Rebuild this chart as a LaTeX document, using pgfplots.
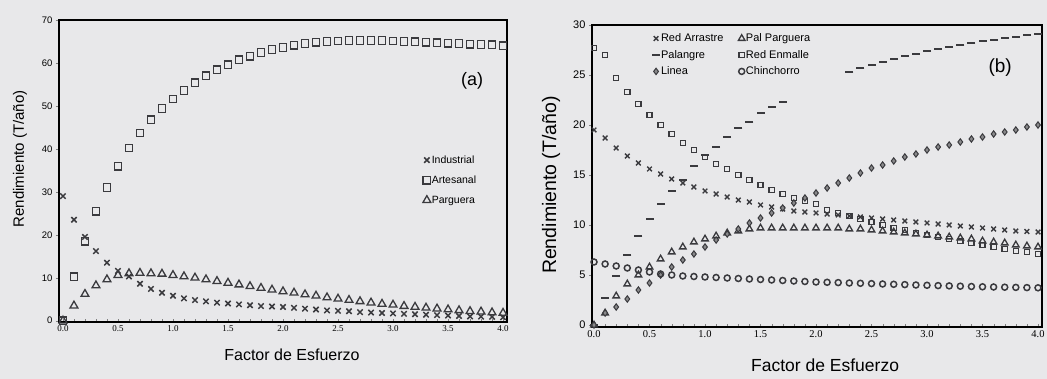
\documentclass[border=0pt]{standalone}
\usepackage{pgfplots}
\pgfplotsset{compat=1.18}
\usepackage{pgfplotstable}
\usepackage{fontspec}
\setmainfont{Liberation Sans}
\newfontfamily\serif{Liberation Serif}
\definecolor{bg}{RGB}{232,232,234}
\definecolor{mk}{RGB}{58,58,62}

\pgfplotstableread{
x ind art par
0.0 29.0 0.0 0.0
0.1 23.5 10.2 3.5
0.2 19.5 18.5 6.2
0.3 16.2 25.5 8.2
0.4 13.5 31.0 9.6
0.5 11.6 36.0 10.6
0.6 10.3 40.2 11.0
0.7 8.6 43.7 11.1
0.8 7.4 46.8 11.0
0.9 6.5 49.4 10.9
1.0 5.8 51.6 10.6
1.1 5.2 53.6 10.3
1.2 4.8 55.4 10.0
1.3 4.5 57.0 9.6
1.4 4.2 58.4 9.2
1.5 4.0 59.6 8.8
1.6 3.8 60.7 8.4
1.7 3.6 61.6 8.0
1.8 3.4 62.4 7.6
1.9 3.3 63.1 7.2
2.0 3.2 63.6 6.8
2.1 3.0 64.1 6.5
2.2 2.8 64.5 6.1
2.3 2.6 64.8 5.8
2.4 2.4 65.0 5.4
2.5 2.3 65.1 5.1
2.6 2.2 65.2 4.8
2.7 2.0 65.2 4.5
2.8 1.9 65.2 4.2
2.9 1.8 65.2 3.9
3.0 1.7 65.1 3.7
3.1 1.6 65.0 3.4
3.2 1.5 64.9 3.2
3.3 1.4 64.8 3.0
3.4 1.3 64.7 2.8
3.5 1.2 64.6 2.6
3.6 1.1 64.5 2.4
3.7 1.0 64.4 2.2
3.8 0.95 64.3 2.1
3.9 0.9 64.2 1.9
4.0 0.8 64.0 1.8
}\tableA

\pgfplotstableread{
x arr ppar enm lin chi
0.0 19.5 0.0 27.7 0.0 6.3
0.1 18.7 1.2 27.0 1.2 6.1
0.2 17.7 2.9 24.7 1.8 5.9
0.3 16.9 4.1 23.3 2.6 5.7
0.4 16.2 5.0 22.1 3.5 5.5
0.5 15.6 5.8 21.0 4.2 5.3
0.6 15.1 6.6 20.0 5.0 5.1
0.7 14.6 7.3 19.1 5.8 5.0
0.8 14.2 7.8 18.2 6.5 4.9
0.9 13.8 8.3 17.5 7.1 4.85
1.0 13.4 8.6 16.8 7.8 4.8
1.1 13.1 8.9 16.1 8.5 4.75
1.2 12.8 9.2 15.6 9.1 4.7
1.3 12.5 9.4 15.0 9.6 4.65
1.4 12.3 9.6 14.5 10.2 4.6
1.5 12.0 9.7 14.0 10.7 4.55
1.6 11.8 9.7 13.5 11.2 4.5
1.7 11.6 9.7 13.1 11.7 4.45
1.8 11.4 9.7 12.7 12.2 4.4
1.9 11.3 9.7 12.4 12.7 4.35
2.0 11.2 9.7 12.1 13.2 4.3
2.1 11.1 9.7 11.5 13.7 4.27
2.2 11.0 9.7 11.2 14.2 4.24
2.3 10.9 9.6 10.9 14.7 4.2
2.4 10.8 9.6 10.6 15.2 4.17
2.5 10.7 9.5 10.3 15.7 4.14
2.6 10.6 9.4 10.0 16.0 4.1
2.7 10.5 9.3 9.7 16.4 4.07
2.8 10.4 9.2 9.5 16.8 4.04
2.9 10.3 9.1 9.2 17.1 4.0
3.0 10.2 9.0 9.0 17.5 3.97
3.1 10.1 8.9 8.8 17.8 3.94
3.2 10.0 8.8 8.6 18.0 3.91
3.3 9.9 8.7 8.4 18.3 3.88
3.4 9.8 8.6 8.2 18.6 3.85
3.5 9.7 8.4 8.0 18.8 3.82
3.6 9.6 8.3 7.8 19.1 3.8
3.7 9.5 8.2 7.6 19.3 3.78
3.8 9.4 8.0 7.4 19.5 3.76
3.9 9.35 7.9 7.3 19.8 3.74
4.0 9.3 7.8 7.1 20.0 3.72
}\tableB

\pgfplotstableread{
x pal
0.0 0.0
0.1 2.7
0.2 4.9
0.3 7.0
0.4 8.9
0.5 10.6
0.6 12.1
0.7 13.4
0.8 14.5
0.9 15.9
1.0 17.0
1.1 17.8
1.2 18.8
1.3 19.7
1.4 20.3
1.5 21.2
1.6 21.8
1.7 22.3
2.3 25.3
2.4 25.7
2.5 26.0
2.6 26.3
2.7 26.6
2.8 26.9
2.9 27.1
3.0 27.4
3.1 27.6
3.2 27.8
3.3 28.0
3.4 28.2
3.5 28.4
3.6 28.5
3.7 28.7
3.8 28.8
3.9 29.0
4.0 29.1
}\tablePal

\pgfplotsset{
  common/.style={
    scale only axis,
    anchor=south west,
    axis line style={line width=1.3pt},
    tick pos=left,
    xtick={0,0.5,...,4.0},
    minor x tick num=4,
    x tick label style={font=\serif\fontsize{9}{9}\selectfont,
      /pgf/number format/fixed,/pgf/number format/fixed zerofill,/pgf/number format/precision=1},
    xtick align=inside,
    ytick align=outside,
    major tick length=3pt,
    minor tick length=2.5pt,
    /pgf/number format/assume math mode=true,
    legend cell align=left,
  },
  pm/.style={only marks, color=mk},
}

\begin{document}
\begin{tikzpicture}
\fill[bg] (0pt,0pt) rectangle (1047pt,379pt);

% ---------- (a)
\begin{axis}[common,
  at={(59pt,57pt)}, width=448pt, height=302pt,
  xmin=-0.036, xmax=4.036, ymin=-0.3, ymax=70,
  ytick={0,10,...,70},
  y tick label style={font=\fontsize{9.5}{9.5}\selectfont},
  xlabel={Factor de Esfuerzo},
  ylabel={Rendimiento (T/año)},
  xlabel style={font=\fontsize{16}{16}\selectfont, at={(axis description cs:0.52,-0.109)}, anchor=center},
  ylabel style={font=\fontsize{15}{15}\selectfont, at={(axis description cs:-0.087,0.54)}, anchor=center},
  legend style={at={(0.812,0.555)}, anchor=north west, draw=none, fill=none,
    font=\fontsize{10.5}{10.5}\selectfont, row sep=9pt, inner sep=0pt,
    nodes={inner sep=1pt}},
]
\addplot[pm, mark=x, mark size=3.8pt, mark options={solid, line width=1.5pt}] table[x=x,y=ind] {\tableA};
\addlegendentry{Industrial}
\addplot[pm, mark=square, mark size=3.8pt, mark options={solid, line width=1.3pt}] table[x=x,y=art] {\tableA};
\addlegendentry{Artesanal}
\addplot[pm, mark=triangle, mark size=4.5pt, mark options={solid, line width=1.3pt}] table[x=x,y=par] {\tableA};
\addlegendentry{Parguera}
\node[font=\fontsize{18}{18}\selectfont] at (rel axis cs:0.922,0.80) {(a)};
\end{axis}

% ---------- (b)
\begin{axis}[common,
  at={(592pt,52pt)}, width=450pt, height=302pt,
  xmin=-0.018, xmax=4.036, ymin=-0.2, ymax=30,
  ytick={0,5,...,30},
  y tick label style={font=\fontsize{11}{11}\selectfont},
  x tick label style={font=\serif\fontsize{10.5}{10.5}\selectfont},
  xlabel={Factor de Esfuerzo},
  ylabel={Rendimiento (T/año)},
  xlabel style={font=\fontsize{17.5}{17.5}\selectfont, at={(axis description cs:0.518,-0.126)}, anchor=center},
  ylabel style={font=\fontsize{19.5}{19.5}\selectfont, at={(axis description cs:-0.091,0.47)}, anchor=center},
  legend columns=2,
  legend style={at={(0.133,0.975)}, anchor=north west, draw=none, fill=none,
    font=\fontsize{11}{11}\selectfont, row sep=5pt, inner sep=0pt,
    nodes={inner sep=1pt},
    /tikz/every even column/.append style={column sep=14pt}},
]
\addplot[pm, mark=x, mark size=3.3pt, mark options={solid, line width=1.4pt}] table[x=x,y=arr] {\tableB};
\addlegendentry{Red Arrastre}
\addplot[pm, mark=triangle, mark size=3.8pt, mark options={solid, line width=1.3pt}] table[x=x,y=ppar] {\tableB};
\addlegendentry{Pal Parguera}
\addplot[pm, mark=-, mark size=4pt, mark options={solid, line width=1.8pt}] table[x=x,y=pal] {\tablePal};
\addlegendentry{Palangre}
\addplot[pm, mark=square, mark size=2.6pt, mark options={solid, line width=1.3pt, fill=bg}] table[x=x,y=enm] {\tableB};
\addlegendentry{Red Enmalle}
\addplot[pm, mark=diamond*, mark size=3.2pt, mark options={solid, line width=1pt, fill=mk!60}] table[x=x,y=lin] {\tableB};
\addlegendentry{Linea}
\addplot[pm, mark=o, mark size=3pt, mark options={solid, line width=1.5pt}] table[x=x,y=chi] {\tableB};
\addlegendentry{Chinchorro}
\node[font=\fontsize{19}{19}\selectfont] at (rel axis cs:0.907,0.86) {(b)};
\end{axis}

\pgfresetboundingbox
\path[use as bounding box] (0pt,0pt) rectangle (1047pt,379pt);
\end{tikzpicture}
\end{document}
